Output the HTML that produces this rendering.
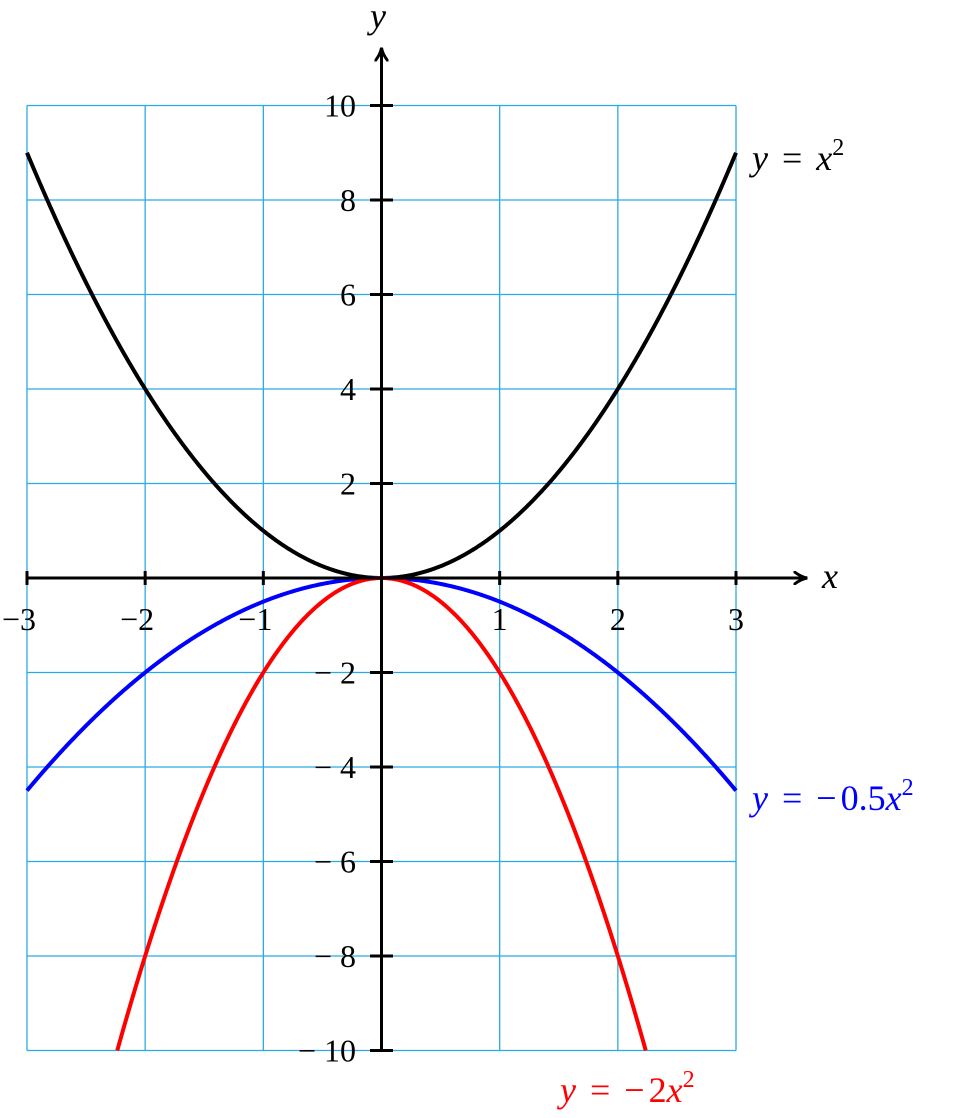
<!DOCTYPE html>
<html><head><meta charset="utf-8"><style>
html,body{margin:0;padding:0;background:#fff;}
svg text{font-family:"Liberation Serif",serif;}
</style></head><body>
<svg id="chart" width="959" height="1113" viewBox="0 0 959 1113" xmlns="http://www.w3.org/2000/svg">
<defs><marker id="arr" viewBox="0 0 12 12" refX="10" refY="6" markerWidth="14" markerHeight="14" orient="auto" markerUnits="userSpaceOnUse"><path d="M0,0 Q6,5 12,6 Q6,7 0,12" fill="none" stroke="#000" stroke-width="2.5"/></marker></defs>
<g id="grid"></g>
<g id="curves"></g>
<g id="axes"></g>
</svg>
<script>
const xTicks=[-3,-2,-1,1,2,3];
const yTicks=[-10,-8,-6,-4,-2,2,4,6,8,10];
const xGrid=[-3,-2,-1,0,1,2,3];
const yGrid=[-10,-8,-6,-4,-2,0,2,4,6,8,10];
const coefficients=[1,-0.5,-2];
const colors=["#000","#0000ff","#ff0000"];
const seriesNames=["y-equals-x-squared","y-equals-minus-half-x-squared","y-equals-minus-two-x-squared"];
const xMin=-3,xMax=3,yMin=-10,yMax=10;
const X=v=>381.5+v*118.17;
const Y=v=>578-v*47.25;
const NS="http://www.w3.org/2000/svg";
function mk(tag,attrs,parent){const e=document.createElementNS(NS,tag);for(const k in attrs)e.setAttribute(k,attrs[k]);parent.appendChild(e);return e;}
const grid=document.getElementById('grid'),curves=document.getElementById('curves'),axes=document.getElementById('axes');
xGrid.forEach(v=>{const l=mk('line',{x1:X(v),x2:X(v),y1:Y(yMax),y2:Y(yMin),stroke:'#29abe2','stroke-width':1.3},grid);

});
yGrid.forEach(v=>{const l=mk('line',{x1:X(xMin),x2:X(xMax),y1:Y(v),y2:Y(v),stroke:'#29abe2','stroke-width':1.3},grid);

});
coefficients.forEach((a,i)=>{let d='';let first=true;
for(let k=0;k<=600;k++){const x=xMin+(xMax-xMin)*k/600;const y=a*x*x;if(y<yMin||y>yMax){continue;}
d+=(first?'M':'L')+X(x).toFixed(2)+','+Y(y).toFixed(2)+' ';first=false;}
if(a<-1){const xe=Math.sqrt(yMin/a);d='M'+X(-xe)+','+Y(yMin)+' '+d.slice(1)+'L'+X(xe)+','+Y(yMin);}
const p=mk('path',{d:d,fill:'none',stroke:colors[i],'stroke-width':4},curves);

});
let ax=mk('line',{x1:X(xMin),y1:Y(0),x2:805,y2:Y(0),stroke:'#000','stroke-width':3,'marker-end':'url(#arr)'},axes);


let ay=mk('line',{x1:X(0),y1:Y(yMin),x2:X(0),y2:50,stroke:'#000','stroke-width':3,'marker-end':'url(#arr)'},axes);


xTicks.forEach(v=>{const t=mk('line',{x1:X(v),x2:X(v),y1:571,y2:585,stroke:'#000','stroke-width':3},axes);


const tx=mk('text',{x:X(v)+(v<0?-8:0),y:630,'font-size':32,'text-anchor':'middle'},axes);tx.textContent=(v<0?'\u2212':'')+Math.abs(v);

});
yTicks.forEach(v=>{const t=mk('line',{x1:370,x2:393,y1:Y(v),y2:Y(v),stroke:'#000','stroke-width':3},axes);


const tx=mk('text',{x:356,y:Y(v)+11,'font-size':32,'text-anchor':'end'},axes);tx.textContent=(v<0?'\u2212 ':'')+Math.abs(v);

});
function label(x,y,html,color,name){const t=mk('text',{x:x,y:y,'font-size':36,fill:color},axes);t.innerHTML=html;

}
label(822,588,'<tspan font-style="italic">x</tspan>','#000','x-axis-title');
label(370,28,'<tspan font-style="italic">y</tspan>','#000','y-axis-title');
const sup='<tspan font-size="24" dy="-15">2</tspan>';
label(752,170,'<tspan font-style="italic">y</tspan><tspan dx="14">=</tspan><tspan dx="14" font-style="italic">x</tspan>'+sup,'#000','label-x-squared');
label(752,810,'<tspan font-style="italic">y</tspan><tspan dx="14">=</tspan><tspan dx="14">\u2212</tspan><tspan dx="4">0.5</tspan><tspan font-style="italic">x</tspan>'+sup,'#0000ff','label-minus-half-x-squared');
label(560,1102,'<tspan font-style="italic">y</tspan><tspan dx="14">=</tspan><tspan dx="14">\u2212</tspan><tspan dx="4">2</tspan><tspan font-style="italic">x</tspan>'+sup,'#ff0000','label-minus-two-x-squared');
</script>
</body></html>
